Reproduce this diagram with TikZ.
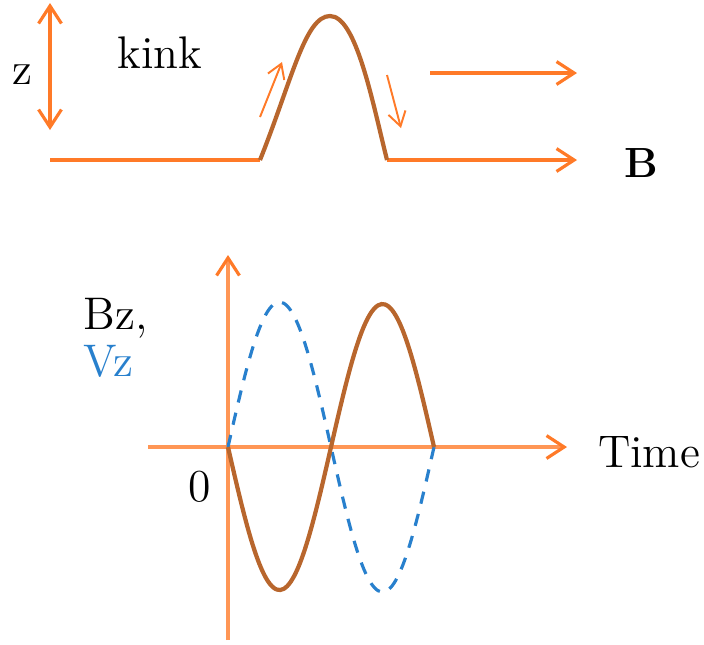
\documentclass[tikz,border=0pt]{standalone}
\usepackage{tikz}
\usetikzlibrary{arrows.meta}

\definecolor{fieldorange}{RGB}{255,122,40}
\definecolor{axisorange}{RGB}{255,150,85}
\definecolor{kinkbrown}{RGB}{184,102,45}
\definecolor{vzblue}{RGB}{40,128,205}

\begin{document}
\begin{tikzpicture}[
    x=0.01cm, y=-0.01cm,
    >={Straight Barb[length=5pt,width=6.5pt]},
    field/.style={draw=fieldorange, line width=0.9pt},
    small/.style={draw=fieldorange, line width=0.55pt, >={Straight Barb[length=4pt,width=5pt]}},
    axis/.style={draw=axisorange, line width=0.9pt, >={Straight Barb[length=5pt,width=6.5pt,color=fieldorange]}},
    kinkline/.style={draw=kinkbrown, line width=1.2pt},
    every node/.style={font=\fontsize{13}{15}\selectfont, inner sep=0pt}
  ]
  \useasboundingbox (0,0) rectangle (704,644);

  % ---- kink ----
  % Field lines
  \coordinate (b0) at (50,160);
  \coordinate (kl) at (260,160);
  \coordinate (kr) at (387,160);
  \coordinate (b1) at (577,160);
  \coordinate (u0) at (430,73);
  \coordinate (u1) at (577,73);
  \draw[field] (b0) -- (kl);
  \draw[field, ->] (kr) -- (b1);
  \draw[field, ->] (u0) -- (u1);
  \draw[kinkline] (kl) .. controls (292,80) and (305,16) .. (330,16)
                       .. controls (356,16) and (372,100) .. (kr);

  % Height
  \coordinate (ztop) at (50,3);
  \coordinate (zbot) at (50,130);
  \draw[field, <->] (ztop) -- (zbot);

  % Motion
  \coordinate (m0) at (260,117);
  \coordinate (m1) at (282,62);
  \coordinate (m2) at (387,75);
  \coordinate (m3) at (401,128);
  \draw[small, ->] (m0) -- (m1);
  \draw[small, ->] (m2) -- (m3);

  % Labels
  \node (zlab) at (22,75) {z};
  \node (kink) at (160,53) {kink};
  \node (blab) at (641,163) {$\mathbf{B}$};

  % ---- signals ----
  % Axes
  \coordinate (o) at (228,447);
  \coordinate (ybot) at (228,640);
  \coordinate (ytop) at (228,255);
  \coordinate (xl) at (148,447);
  \coordinate (xr) at (567,447);
  \draw[axis, ->] (ybot) -- (ytop);
  \draw[axis, ->] (xl) -- (xr);

  % Curves
  \draw[vzblue, line width=0.9pt, dash pattern=on 3.5pt off 3pt]
    plot[domain=0:206, samples=60, smooth] ({228+\x}, {447-145*sin(\x/206*360)});
  \draw[kinkline]
    plot[domain=0:206, samples=60, smooth] ({228+\x}, {447+143*sin(\x/206*360)});

  % Labels
  \node[anchor=west] (bzlab) at (83,318) {Bz,};
  \node[anchor=west, text=vzblue] (vzlab) at (83,361) {Vz};
  \node (zero) at (200,487) {0};
  \node (timelab) at (649,452) {Time};
\end{tikzpicture}
\end{document}
